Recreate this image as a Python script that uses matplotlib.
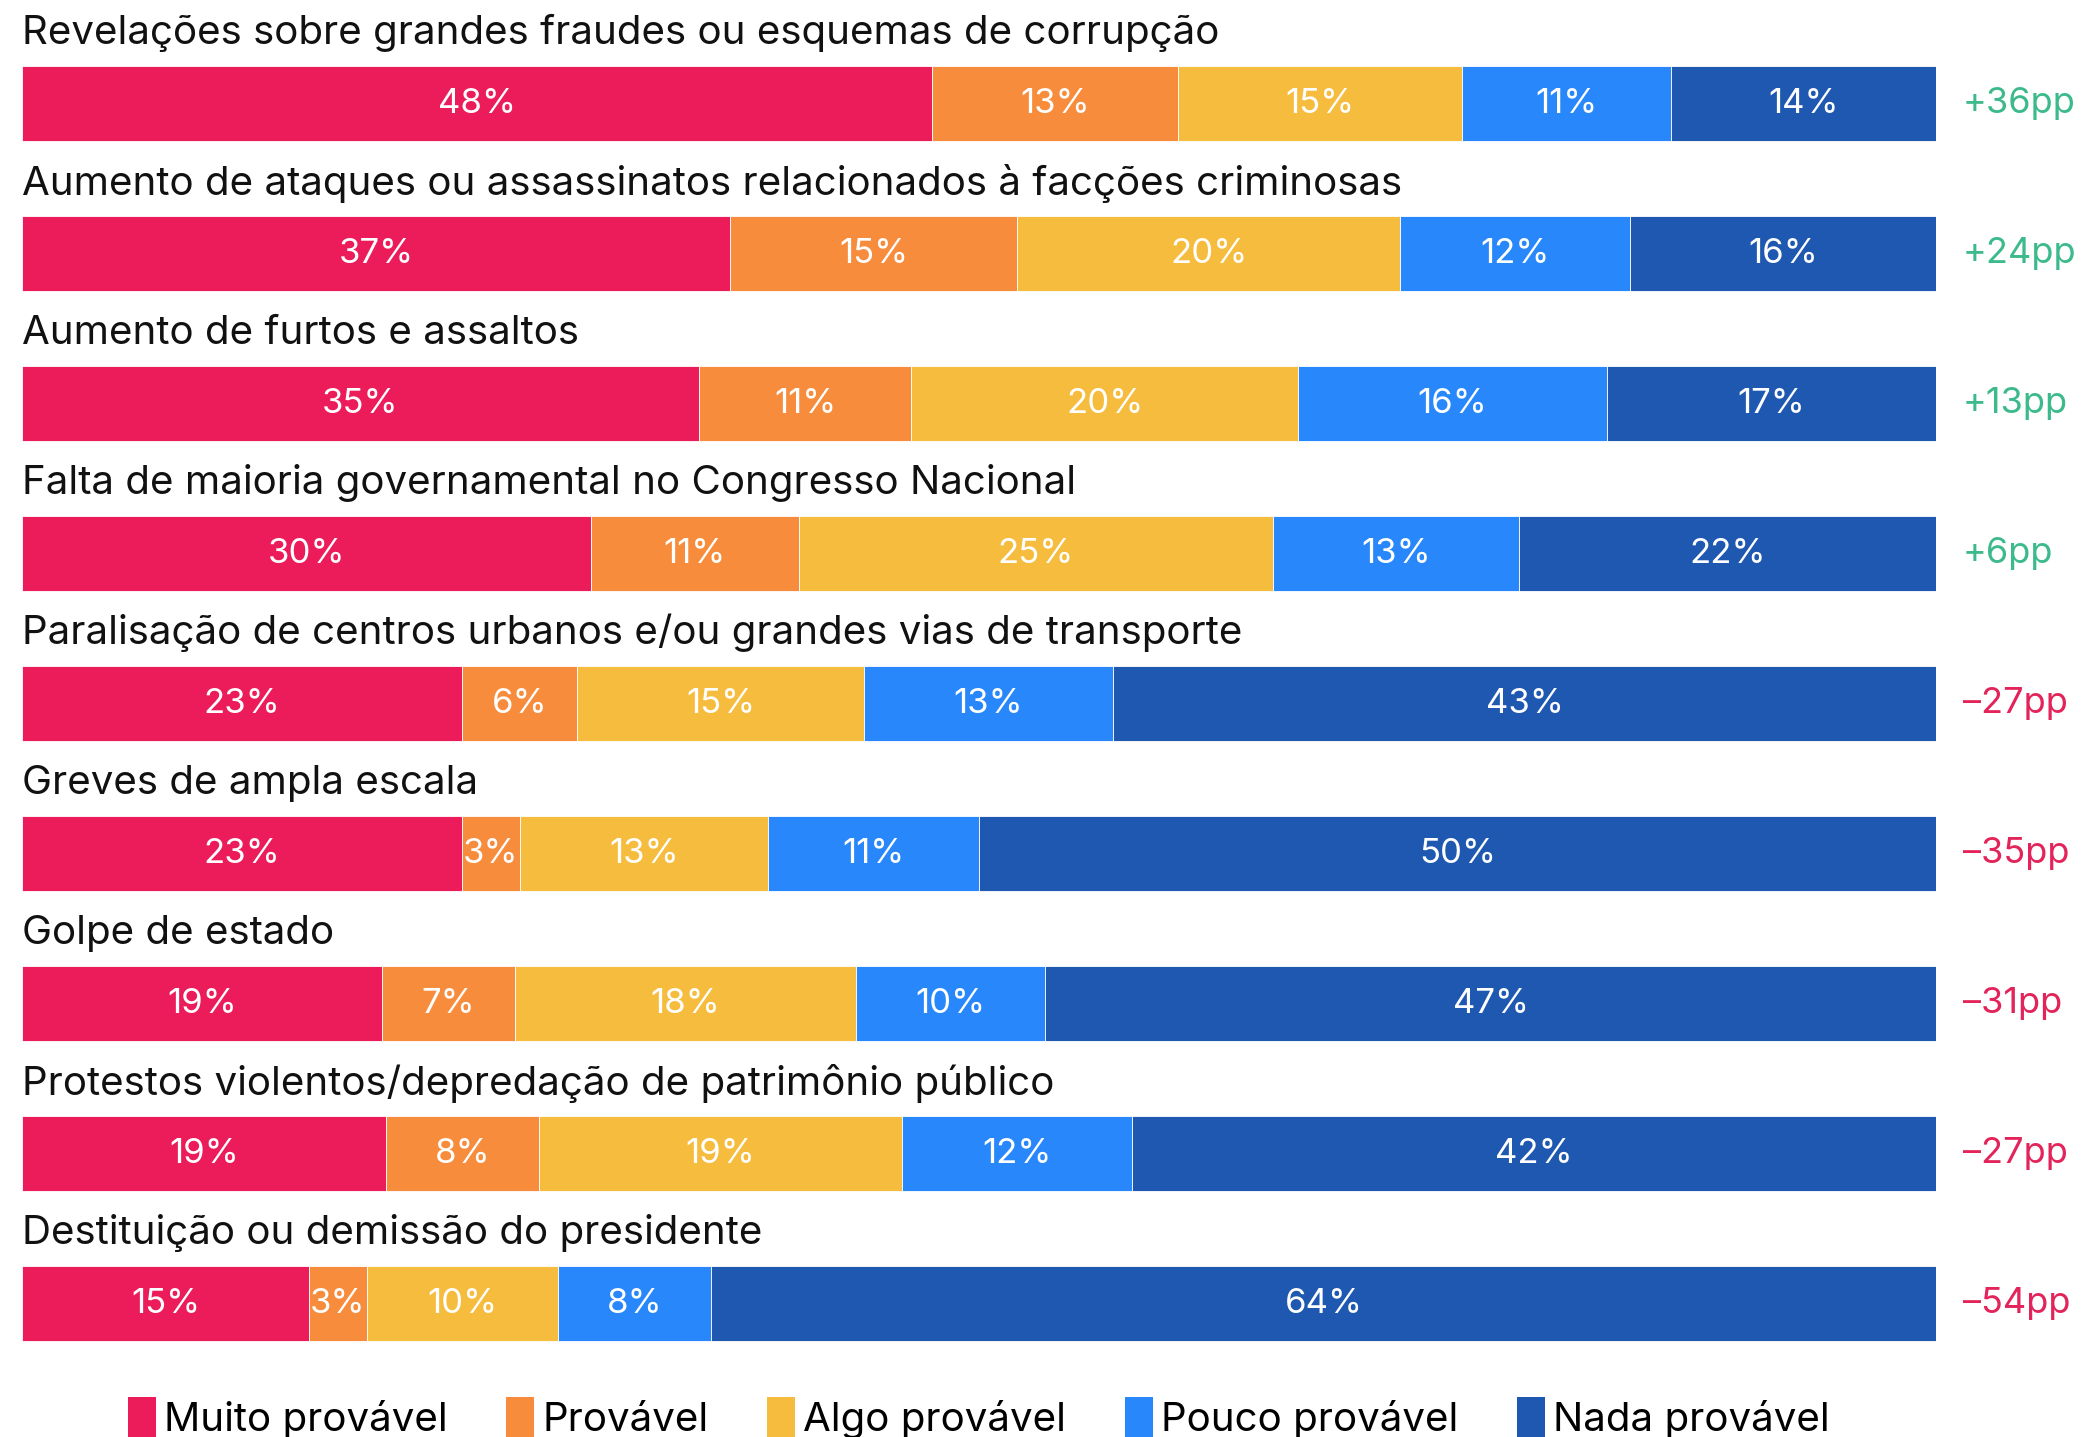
import numpy as np
import matplotlib.pyplot as plt
from matplotlib.patches import Patch

plt.rcParams['font.family'] = ['Inter', 'DejaVu Sans']

categories = [
    "Revelações sobre grandes fraudes ou esquemas de corrupção",
    "Aumento de ataques ou assassinatos relacionados à facções criminosas",
    "Aumento de furtos e assaltos",
    "Falta de maioria governamental no Congresso Nacional",
    "Paralisação de centros urbanos e/ou grandes vias de transporte",
    "Greves de ampla escala",
    "Golpe de estado",
    "Protestos violentos/depredação de patrimônio público",
    "Destituição ou demissão do presidente",
]
series = ["Muito provável", "Provável", "Algo provável", "Pouco provável", "Nada provável"]
muito = [48, 37, 35, 30, 23, 23, 19, 19, 15]
provavel = [13, 15, 11, 11, 6, 3, 7, 8, 3]
algo = [15, 20, 20, 25, 15, 13, 18, 19, 10]
pouco = [11, 12, 16, 13, 13, 11, 10, 12, 8]
nada = [14, 16, 17, 22, 43, 50, 47, 42, 64]
saldo = ["+36pp", "+24pp", "+13pp", "+6pp", "-27pp", "-35pp", "-31pp", "-27pp", "-54pp"]

colors = ["#ec1c5b", "#f78c3c", "#f6bc3d", "#2787fb", "#1e58b1"]

W, H = 2082, 1437
fig = plt.figure(figsize=(W / 100, H / 100), dpi=100)
left_px, right_px = 22, 1936
ax = fig.add_axes([left_px / W, 0, (right_px - left_px) / W, 1])
top0 = 103.6
step = 150.0
ax.set_ylim((H - top0) / step, -top0 / step)
ax.set_xlim(0, 100)
ax.axis("off")

data = np.array([muito, provavel, algo, pouco, nada], dtype=float)
totals = data.sum(axis=0)
y = np.arange(len(categories))
left = np.zeros(len(categories))
for k in range(5):
    w = data[k] / totals * 100
    ax.barh(y, w, left=left, height=0.495, color=colors[k],
            edgecolor="white", linewidth=0.6)
    for i in range(len(categories)):
        ax.text(left[i] + w[i] / 2, y[i], f"{int(data[k][i])}%", ha="center",
                va="center", color="white", fontsize=25)
    left += w

for i, cat in enumerate(categories):
    ax.text(0, i - 0.47, cat, ha="left", va="center", fontsize=29, color="#111111")
    col = "#3dba8c" if saldo[i].startswith("+") else "#e3245a"
    ax.text(101.4, i, saldo[i].replace("-", "\u2013"), ha="left", va="center",
            fontsize=26, color=col, clip_on=False)

handles = [Patch(facecolor=c, edgecolor="none") for c in colors]
fig.legend(handles, series, loc="center", bbox_to_anchor=(0.47, 0.013), ncol=5,
           frameon=False, fontsize=29, handlelength=0.7, handleheight=1.2,
           handletextpad=0.2, columnspacing=1.45)

fig.savefig("out.png", dpi=100)
